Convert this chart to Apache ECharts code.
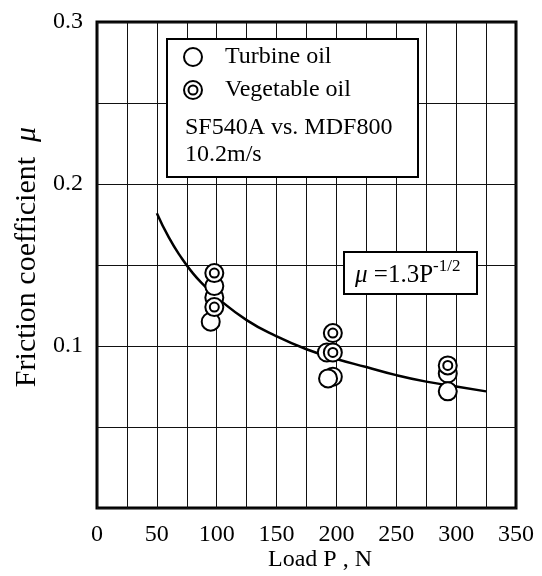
<!DOCTYPE html>
<html><head><meta charset="utf-8">
<script src="https://cdn.jsdelivr.net/npm/echarts@6/dist/echarts.min.js"></script>
<style>html,body{margin:0;padding:0;background:#fff}#c{width:542px;height:576px}</style>
</head><body><div id="c"></div>
<script>
// Data
const turbineP  = [95, 98, 98, 192, 197, 193, 293, 293];
const turbineMu = [0.115, 0.130, 0.137, 0.096, 0.081, 0.080, 0.083, 0.072];
const vegP  = [98, 98, 197, 197, 293];
const vegMu = [0.145, 0.124, 0.108, 0.096, 0.088];
const curveP  = [50, 60, 70, 80, 90, 100, 125, 150, 175, 200, 225, 250, 275, 300, 325];
const curveMu = [0.182, 0.167, 0.155, 0.145, 0.137, 0.130, 0.116, 0.106, 0.098, 0.092, 0.087, 0.082, 0.078, 0.075, 0.072];
const xTicks = [0, 50, 100, 150, 200, 250, 300, 350];
const yTicks = ['0.1', '0.2', '0.3'];
const seriesNames = ['Turbine oil', 'Vegetable oil'];
const noteLines = ['SF540A vs. MDF800', '10.2m/s'];

const FONT = '"Liberation Serif", "DejaVu Serif", serif';
const vegSymbol = 'path://M0,10a10,10 0 1,0 20,0a10,10 0 1,0 -20,0zM5,10a5,5 0 1,0 10,0a5,5 0 1,0 -10,0z';

const zip = (a, b) => a.map((v, i) => [v, b[i]]);

const chart = echarts.init(document.getElementById('c'), null, {renderer: 'canvas'});
chart.setOption({
  animation: false,
  backgroundColor: '#fff',
  grid: {left: 97, right: 26, top: 22, bottom: 68, show: true, borderColor: '#000', borderWidth: 3, backgroundColor: 'transparent'},
  xAxis: {
    type: 'value', min: 0, max: 350, interval: 25,
    axisLine: {show: false}, axisTick: {show: false},
    splitLine: {show: true, lineStyle: {color: '#111', width: 1}},
    axisLabel: {
      fontFamily: FONT, fontSize: 24, color: '#000', margin: 15,
      formatter: v => xTicks.indexOf(v) >= 0 ? String(v) : ''
    }
  },
  yAxis: {
    type: 'value', min: 0, max: 0.3, interval: 0.05,
    axisLine: {show: false}, axisTick: {show: false},
    splitLine: {show: true, lineStyle: {color: '#111', width: 1}},
    axisLabel: {
      fontFamily: FONT, fontSize: 24, color: '#000', margin: 14,
      formatter: v => { const s = v.toFixed(2); const t = (Math.round(v * 100) / 100).toFixed(1); return (yTicks.indexOf(t) >= 0 && s === t + '0') ? t : ''; }
    }
  },
  legend: {
    orient: 'vertical', left: 183, top: 45, padding: 0, itemWidth: 18, itemHeight: 18, itemGap: 9,
    selectedMode: false, z: 10,
    textStyle: {fontFamily: FONT, fontSize: 24, color: '#000', padding: [0, 0, 0, 18], lineHeight: 24},
    data: [{name: seriesNames[0], icon: 'circle'}, {name: seriesNames[1], icon: vegSymbol}]
  },
  graphic: [
    {type: 'rect', z: 5, shape: {x: 167, y: 39, width: 251, height: 138}, style: {fill: '#fff', stroke: '#000', lineWidth: 2}},
    {type: 'text', z: 10, x: 185, y: 128, style: {text: noteLines[0], fontFamily: FONT, fontSize: 24, fill: '#000', textVerticalAlign: 'middle'}},
    {type: 'text', z: 10, x: 185, y: 155, style: {text: noteLines[1], fontFamily: FONT, fontSize: 24, fill: '#000', textVerticalAlign: 'middle'}},
    {type: 'rect', z: 5, shape: {x: 344, y: 252, width: 133, height: 42}, style: {fill: '#fff', stroke: '#000', lineWidth: 2}},
    {type: 'text', z: 10, x: 355, y: 275, style: {
      text: '{i|μ} =1.3P{s|-1/2}', fontFamily: FONT, fontSize: 25, fill: '#000', textVerticalAlign: 'middle',
      rich: {
        i: {fontFamily: FONT, fontSize: 25, fontStyle: 'italic', fill: '#000'},
        s: {fontFamily: FONT, fontSize: 17, fill: '#000', verticalAlign: 'top', lineHeight: 34}
      }
    }},
    {type: 'text', z: 10, x: 320, y: 560, style: {text: 'Load P , N', fontFamily: FONT, fontSize: 24, fill: '#000', textAlign: 'center', textVerticalAlign: 'middle'}},
    {type: 'text', z: 10, x: 27, y: 257, rotation: Math.PI / 2, style: {text: 'Friction coefficient  {i|μ}', fontFamily: FONT, fontSize: 30, fill: '#000', textAlign: 'center', textVerticalAlign: 'middle',
      rich: {i: {fontFamily: FONT, fontSize: 30, fontStyle: 'italic', fill: '#000'}}}}
  ],
  series: [
    {type: 'line', name: 'fit', data: zip(curveP, curveMu), smooth: true, showSymbol: false, symbol: 'none',
     lineStyle: {color: '#000', width: 2.5}, z: 2},
    {type: 'scatter', name: seriesNames[0], data: zip(turbineP, turbineMu), symbol: 'circle', symbolSize: 18,
     itemStyle: {color: '#fff', borderColor: '#000', borderWidth: 2, opacity: 1}, z: 3},
    {type: 'scatter', name: seriesNames[1], data: zip(vegP, vegMu), symbol: vegSymbol, symbolSize: 18,
     itemStyle: {color: '#fff', borderColor: '#000', borderWidth: 2, opacity: 1}, z: 4}
  ]
});
</script></body></html>
